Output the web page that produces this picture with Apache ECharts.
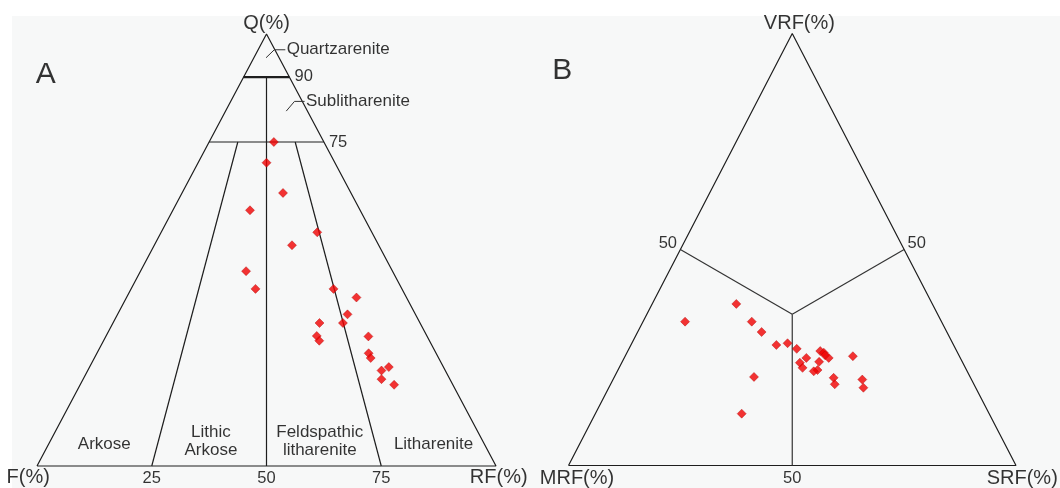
<!DOCTYPE html>
<html>
<head>
<meta charset="utf-8">
<script src="https://cdn.jsdelivr.net/npm/echarts@6/dist/echarts.min.js"></script>
<style>
html,body{margin:0;padding:0;background:#ffffff;}
#chart{width:1060px;height:488px;}
</style>
</head>
<body>
<div id="chart"></div>
<script>
// ---------- Panel A: Q - F - RF (%) ----------
const A_Q  = [75.0, 70.2, 63.2, 59.2, 54.1, 51.1, 45.1, 41.0, 41.0, 39.0, 35.1, 33.1, 33.1, 30.1, 29.0, 30.0, 26.1, 25.0, 22.9, 22.1, 20.1, 18.8];
const A_F  = [10.9, 14.9, 14.8, 24.0, 11.9, 18.9, 31.9, 31.9, 14.9, 10.9, 14.8, 21.9, 16.8, 24.0, 24.0, 12.8, 14.7, 14.8, 11.9, 13.9, 14.9, 12.8];
const A_RF = [14.1, 14.9, 22.0, 16.8, 34.0, 30.0, 23.0, 27.1, 44.1, 50.1, 50.1, 45.0, 50.1, 45.9, 47.0, 57.2, 59.2, 60.2, 65.2, 64.0, 65.0, 68.4];

// ---------- Panel B: VRF - MRF - SRF (%) ----------
const B_VRF = [37.4, 33.3, 33.3, 30.9, 27.9, 28.3, 27.0, 26.5, 26.1, 25.5, 24.9, 24.9, 23.8, 22.6, 24.0, 22.1, 21.8, 25.3, 20.3, 18.8, 19.9, 18.0, 20.5, 12.0];
const B_MRF = [43.8, 57.3, 42.4, 41.4, 39.6, 36.9, 35.5, 30.5, 29.9, 29.9, 29.4, 34.4, 36.4, 36.4, 32.0, 33.3, 34.3, 23.8, 30.6, 31.1, 24.4, 25.1, 48.3, 55.3];
const B_SRF = [18.8,  9.4, 24.3, 27.7, 32.5, 34.8, 37.5, 43.0, 44.0, 44.6, 45.7, 40.7, 39.8, 41.0, 44.0, 44.6, 43.9, 50.9, 49.1, 50.1, 55.7, 56.9, 31.2, 32.7];

// Classification boundaries (ternary [top, left, right] compositions)
const A_frame = [[0,100,0],[0,0,100],[100,0,0],[0,100,0]];
const A_q90   = [[90,10,0],[90,0,10]];
const A_q75   = [[75,25,0],[75,0,25]];
const A_mid   = [[90,5,5],[0,50,50]];
const A_left  = [[75,18.75,6.25],[0,75,25]];
const A_right = [[75,6.25,18.75],[0,25,75]];
const B_frame = [[0,100,0],[0,0,100],[100,0,0],[0,100,0]];
const B_junction = [35,32.5,32.5];
const B_spokes = [[[50,50,0],B_junction],[[50,0,50],B_junction],[[0,50,50],B_junction]];

// Text
const A_vertexNames = ['Q(%)','F(%)','RF(%)'];
const B_vertexNames = ['VRF(%)','MRF(%)','SRF(%)'];
const A_baseTicks = ['25','50','75'];
const A_sideTicks = ['90','75'];
const A_fields = ['Arkose','Lithic\nArkose','Feldspathic\nlitharenite','Litharenite'];
const A_upperFields = ['Quartzarenite','Sublitharenite'];
const B_ticks = ['50','50','50'];

// ternary -> cartesian (x along base 0..100, y = top component)
function tern(t){ const s=t[0]+t[1]+t[2]; const top=t[0]/s*100, right=t[2]/s*100; return [right+top/2, top]; }

const FONT = 'Liberation Sans, Arial, sans-serif';
const LINE = '#1e1e1e';
const TEXT = '#000000';

function lineSeries(pts, idx, width, color){
  return {type:'line', xAxisIndex:idx, yAxisIndex:idx, data:pts, symbol:'none', silent:true,
    clip:false, animation:false, z:2, lineStyle:{color:color||LINE, width:width||1.1}};
}
function labelSeries(items, idx){
  return {type:'scatter', xAxisIndex:idx, yAxisIndex:idx, symbolSize:0, silent:true, clip:false, animation:false, z:5,
    data: items.map(it=>({value:it.at, label:{show:true, formatter:it.text, position:'inside',
      distance:0, fontSize:it.size||17, fontFamily:FONT, color:TEXT, lineHeight:it.lh||20,
      align:it.align||'center', verticalAlign:'middle', fontWeight:'normal'}}))};
}

const series = [];
// Panel A frame & lines
series.push(lineSeries(A_frame.map(tern),0,1.2));
series.push(lineSeries(A_q90.map(tern),0,2.3));
series.push(lineSeries(A_q75.map(tern),0,1.2));
series.push(lineSeries(A_mid.map(tern),0,1.2));
series.push(lineSeries(A_left.map(tern),0,1.2));
series.push(lineSeries(A_right.map(tern),0,1.2));
// leader lines (data space of panel A)
series.push(lineSeries([[49.9,94.5],[51.7,96.35],[54.1,96.35]],0,1,'#333'));
series.push(lineSeries([[54.3,82.15],[56.1,84.4],[58.3,84.4]],0,1,'#333'));
// Panel B frame & spokes
series.push(lineSeries(B_frame.map(tern),1,1.2));
B_spokes.forEach(s=>series.push(lineSeries(s.map(tern),1,1.2,'#333')));

// Samples
const diamond = {color:'#f00000', borderColor:'#b00000', borderWidth:0.5};
series.push({type:'scatter', xAxisIndex:0, yAxisIndex:0, symbol:'diamond', symbolSize:9, z:4, animation:false,
  itemStyle:diamond, data: A_Q.map((q,i)=>tern([q, A_F[i], A_RF[i]]))});
series.push({type:'scatter', xAxisIndex:1, yAxisIndex:1, symbol:'diamond', symbolSize:9, z:4, animation:false,
  itemStyle:diamond, data: B_VRF.map((v,i)=>tern([v, B_MRF[i], B_SRF[i]]))});

// Labels panel A
series.push(labelSeries([
  {text:'A', at:[1.9,90.6], size:30},
  {text:A_vertexNames[0], at:[50,102.5], size:20},
  {text:A_vertexNames[1], at:[-1.9,-2.6], size:20},
  {text:A_vertexNames[2], at:[100.6,-2.6], size:20},
  {text:A_baseTicks[0], at:[25,-2.8], size:16.5},
  {text:A_baseTicks[1], at:[50,-2.8], size:16.5},
  {text:A_baseTicks[2], at:[75,-2.8], size:16.5},
  {text:A_sideTicks[0], at:[56.1,90.2], size:16.5, align:'left'},
  {text:A_sideTicks[1], at:[63.6,75.0], size:16.5, align:'left'},
  {text:A_upperFields[0], at:[54.4,96.4], size:17, align:'left'},
  {text:A_upperFields[1], at:[58.6,84.4], size:17, align:'left'},
  {text:A_fields[0], at:[14.65,5.1], size:17},
  {text:A_fields[1], at:[37.9,5.8], size:17, lh:18},
  {text:A_fields[2], at:[61.6,5.8], size:17, lh:18},
  {text:A_fields[3], at:[86.4,5.1], size:17}
],0));
// Labels panel B
series.push(labelSeries([
  {text:'B', at:[-1.4,91.3], size:30},
  {text:B_vertexNames[0], at:[51.6,102.4], size:20},
  {text:B_vertexNames[1], at:[1.9,-2.9], size:20},
  {text:B_vertexNames[2], at:[101.4,-2.9], size:20},
  {text:B_ticks[0], at:[22.2,51.4], size:16.5},
  {text:B_ticks[1], at:[77.8,51.4], size:16.5},
  {text:B_ticks[2], at:[50,-2.9], size:16.5}
],1));

const hiddenAxis = {type:'value', min:0, max:100, show:false};
const option = {
  backgroundColor:'#ffffff',
  animation:false,
  graphic:[{type:'rect', left:12, top:16, shape:{width:1048, height:472}, style:{fill:'#f7f8f8'}, z:-10, silent:true}],
  grid:[
    {left:37, top:34, width:459, height:432},
    {left:568.5, top:33.5, width:447.5, height:432}
  ],
  xAxis:[Object.assign({gridIndex:0},hiddenAxis), Object.assign({gridIndex:1},hiddenAxis)],
  yAxis:[Object.assign({gridIndex:0},hiddenAxis), Object.assign({gridIndex:1},hiddenAxis)],
  series: series
};
const chart = echarts.init(document.getElementById('chart'), null, {renderer:'canvas'});
chart.setOption(option);
</script>
</body>
</html>
